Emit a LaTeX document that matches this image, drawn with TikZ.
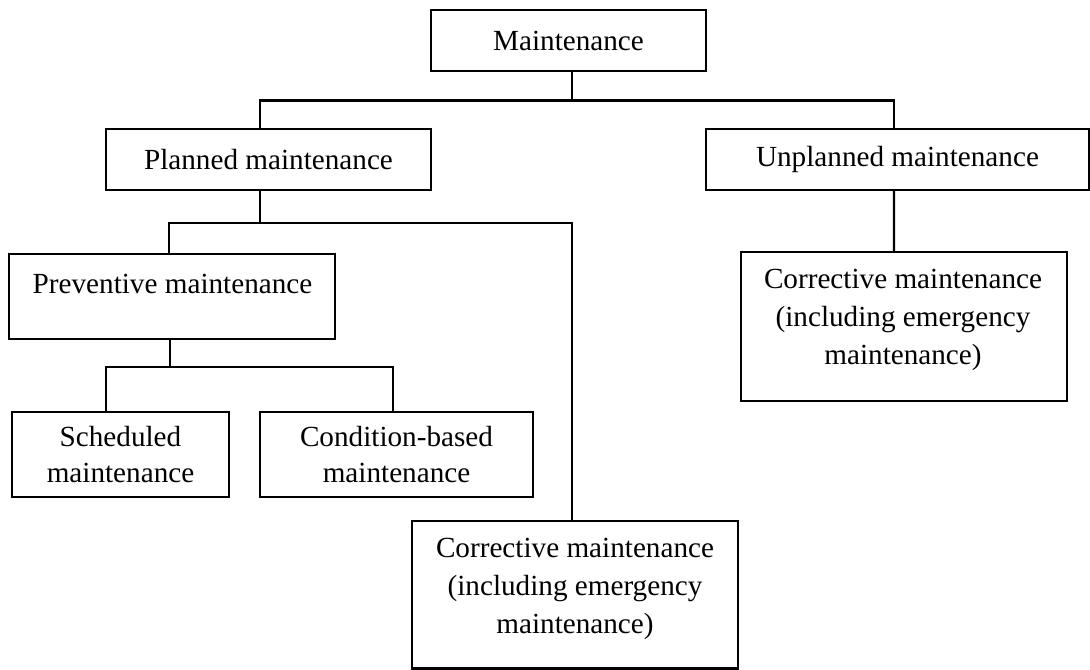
\documentclass[tikz,border=0pt]{standalone}
\usepackage{fontspec}
\setmainfont{Liberation Serif}
\begin{document}
\begin{tikzpicture}[x=0.01cm, y=-0.01cm]
\tikzset{
  box/.style={draw, line width=0.6pt, rectangle, inner sep=0pt, outer sep=0pt},
  txt/.style={inner sep=0pt, align=center, font=\fontsize{8.3}{10}\selectfont},
  txtw/.style={inner sep=0pt, align=center, font=\fontsize{8.3}{10.8}\selectfont},
  wire/.style={line width=0.6pt}
}
\useasboundingbox (0,0) rectangle (1090,669);

% boxes
\node[box, txt, minimum width=27.5mm, minimum height=6.1mm] (maint) at (568.5,40.5) {Maintenance};
\node[box, txt, minimum width=32.5mm, minimum height=6.1mm] (plan) at (268.5,159.5) {Planned maintenance};
\node[box, txt, minimum width=38.3mm, minimum height=6.1mm] (unpl) at (897.5,159.5) {Unplanned maintenance};
\node[box, minimum width=32.6mm, minimum height=8.5mm] (prev) at (172,296.5) {};
\node[txt] (prevt) at (172.5,283.5) {Preventive maintenance};
\node[box, txt, minimum width=21.7mm, minimum height=8.5mm] (sched) at (120.5,454.5) {Scheduled\\maintenance};
\node[box, txt, minimum width=27.3mm, minimum height=8.5mm] (cond) at (396.5,454.5) {Condition-based\\maintenance};
\node[box, minimum width=32.6mm, minimum height=14.75mm] (corrL) at (575,594.75) {};
\node[txtw] (corrLt) at (575,589) {Corrective maintenance\\(including emergency\\maintenance)};
\node[box, minimum width=32.6mm, minimum height=14.9mm] (corrR) at (904,326.5) {};
\node[txtw] (corrRt) at (903,320) {Corrective maintenance\\(including emergency\\maintenance)};

% connectors
\draw[wire] ([xshift=0.035cm]maint.south) -- ++(0,29.5);
\draw[wire] ([xshift=-0.085cm]plan.north) -- ++(0,-28.5) -| ([xshift=-0.035cm]unpl.north);
\draw[wire] ([xshift=-0.085cm]plan.south) -- ++(0,33);
\draw[wire] ([xshift=-0.03cm]prev.north) -- ++(0,-31) -| ([xshift=-0.03cm]corrL.north);
\draw[wire] ([xshift=-0.035cm]unpl.south) -- ([xshift=-0.1cm]corrR.north);
\draw[wire] ([xshift=-0.02cm]prev.south) -- ++(0,28);
\draw[wire] ([xshift=-0.145cm]sched.north) -- ++(0,-45) -| ([xshift=-0.035cm]cond.north);
\end{tikzpicture}
\end{document}
